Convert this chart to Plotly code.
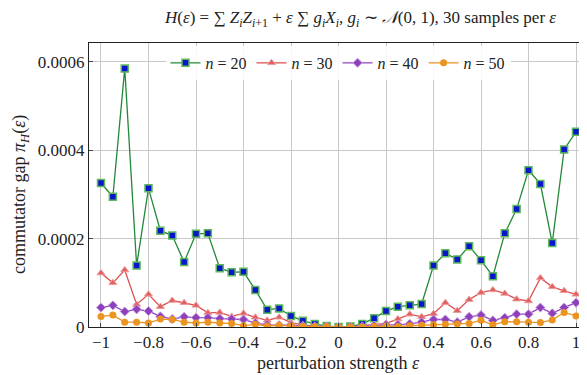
import plotly.graph_objects as go

eps = [round(-1 + 0.05 * i, 2) for i in range(41)]

# values in units of 1e-4
n20 = [3.26, 2.95, 5.85, 1.39, 3.14, 2.18, 2.07, 1.47, 2.11, 2.12, 1.33, 1.24, 1.25, 0.84, 0.39, 0.42, 0.25, 0.14, 0.07, 0.02,
       0.0,
       0.01, 0.07, 0.20, 0.36, 0.46, 0.49, 0.52, 1.39, 1.67, 1.53, 1.83, 1.51, 1.15, 2.12, 2.67, 3.55, 3.24, 1.90, 4.02, 4.42]
n30 = [1.22, 1.00, 1.29, 0.51, 0.74, 0.46, 0.60, 0.55, 0.49, 0.32, 0.33, 0.24, 0.31, 0.22, 0.15, 0.22, 0.10, 0.05, 0.02, 0.01,
       0.0,
       0.01, 0.03, 0.05, 0.08, 0.18, 0.29, 0.23, 0.30, 0.55, 0.37, 0.62, 0.78, 0.84, 0.76, 0.63, 0.59, 1.11, 0.91, 0.82, 0.74]
n40 = [0.44, 0.49, 0.35, 0.40, 0.36, 0.24, 0.18, 0.23, 0.21, 0.21, 0.19, 0.18, 0.17, 0.09, 0.05, 0.04, 0.04, 0.02, 0.01, 0.01,
       0.0,
       0.0, 0.01, 0.03, 0.05, 0.05, 0.07, 0.11, 0.17, 0.17, 0.11, 0.23, 0.27, 0.15, 0.21, 0.29, 0.29, 0.44, 0.31, 0.44, 0.55]
n50 = [0.24, 0.27, 0.11, 0.11, 0.09, 0.18, 0.17, 0.11, 0.09, 0.11, 0.09, 0.08, 0.03, 0.06, 0.02, 0.04, 0.02, 0.01, 0.01, 0.01,
       0.0,
       0.0, 0.0, 0.01, 0.02, 0.01, 0.03, 0.04, 0.05, 0.06, 0.07, 0.08, 0.15, 0.05, 0.12, 0.12, 0.11, 0.10, 0.16, 0.33, 0.25]

labels = ["<i>n</i> = 20", "<i>n</i> = 30", "<i>n</i> = 40", "<i>n</i> = 50"]
x_ticks = [-1, -0.8, -0.6, -0.4, -0.2, 0, 0.2, 0.4, 0.6, 0.8, 1]
x_ticktext = ["\u22121", "\u22120.8", "\u22120.6", "\u22120.4", "\u22120.2", "0", "0.2", "0.4", "0.6", "0.8", "1"]
y_ticks = [0, 0.0002, 0.0004, 0.0006]
y_ticktext = ["0", "0.0002", "0.0004", "0.0006"]

FONT = "Liberation Serif"

fig = go.Figure()

styles = [
    dict(line=dict(color="#23893a", width=1.3),
         marker=dict(symbol="square", size=7, color="#0a14c8", line=dict(color="#5cb85c", width=1.5))),
    dict(line=dict(color="#de5050", width=1.3),
         marker=dict(symbol="triangle-up", size=7, color="#e06060", line=dict(color="#f09a9a", width=1))),
    dict(line=dict(color="#9446c0", width=1.3),
         marker=dict(symbol="diamond", size=7, color="#8e3fbb", line=dict(color="#c49ae0", width=1))),
    dict(line=dict(color="#eb9420", width=1.3),
         marker=dict(symbol="circle", size=7, color="#eb9420", line=dict(color="#eb9420", width=0))),
]

for vals, lab, st in zip([n20, n30, n40, n50], labels, styles):
    fig.add_trace(go.Scatter(x=eps, y=[v * 1e-4 for v in vals], mode="lines+markers",
                             name=lab, line=st["line"], marker=st["marker"]))

fig.add_shape(type="line", x0=0, x1=0, y0=0, y1=1, xref="x", yref="paper",
              line=dict(color="#888888", width=1, dash="dash"), layer="below")

# page body has an 8px default margin, so the figure is sized/offset accordingly
fig.update_layout(
    width=579, height=367,
    margin=dict(l=81, r=0, t=35, b=48),
    paper_bgcolor="white", plot_bgcolor="white",
    font=dict(family=FONT, size=16, color="#222222"),
    showlegend=True,
    legend=dict(orientation="h", x=0.5, xanchor="center", y=0.93, yanchor="middle",
                bgcolor="rgba(255,255,255,0.85)", borderwidth=0,
                font=dict(family=FONT, size=16), itemwidth=30, tracegroupgap=0),
    xaxis=dict(range=[-1.0505, 1.0463], tickvals=x_ticks, ticktext=x_ticktext,
               automargin=False,
               showgrid=True, gridcolor="#c8c8c8", gridwidth=1, zeroline=False,
               showline=True, linecolor="#222222", linewidth=1, mirror=True,
               ticks="inside", ticklen=4, tickcolor="#444444",
               tickfont=dict(family=FONT, size=17)),
    yaxis=dict(range=[0, 0.000643], tickvals=y_ticks, ticktext=y_ticktext,
               automargin=False,
               showgrid=True, gridcolor="#c8c8c8", gridwidth=1, zeroline=False,
               showline=True, linecolor="#222222", linewidth=1,
               ticks="inside", ticklen=4, tickcolor="#444444",
               tickfont=dict(family=FONT, size=17)),
)

fig.add_annotation(
    text="<i>H</i>(<i>ε</i>) = ∑ <i>Z<sub>i</sub>Z<sub>i</sub></i><sub>+1</sub> + <i>ε</i> ∑ <i>g<sub>i</sub>X<sub>i</sub></i>, <i>g<sub>i</sub></i> ∼ <i>𝒩</i>(0, 1), 30 samples per <i>ε</i>",
    xref="paper", yref="paper", x=0.544, y=1.0, yshift=24, yanchor="middle", xanchor="center",
    showarrow=False, font=dict(family=FONT, size=17, color="#222222"))

fig.add_annotation(
    text="perturbation strength <i>ε</i>",
    xref="paper", yref="paper", x=0.5, y=0.0, yshift=-36, yanchor="middle", xanchor="center",
    showarrow=False, font=dict(family=FONT, size=18, color="#222222"))

fig.add_annotation(
    text="commutator gap <i>π<sub>H</sub></i>(<i>ε</i>)",
    xref="paper", yref="paper", x=-0.1365, y=0.465, textangle=-90, yanchor="middle", xanchor="center",
    showarrow=False, font=dict(family=FONT, size=18, color="#222222"))

fig.write_html("out.html")
